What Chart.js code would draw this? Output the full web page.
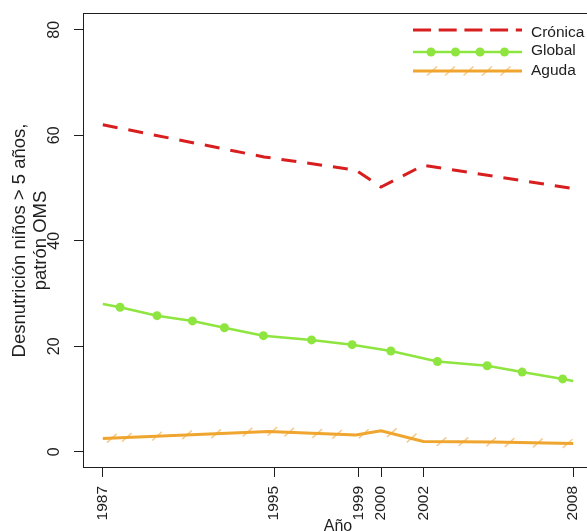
<!DOCTYPE html>
<html>
<head>
<meta charset="utf-8">
<title>Desnutrición en niños</title>
<script src="https://cdn.jsdelivr.net/npm/chart.js@4.4.1/dist/chart.umd.min.js"></script>
<style>
  html, body { margin: 0; padding: 0; background: #fff; overflow: hidden; }
  canvas { display: block; }
</style>
</head>
<body>
<canvas id="desnutricion" width="600" height="545" style="width:600px;height:545px"></canvas>
<script>
// Time axis runs on a survey index (1987 = 0); ticks sit at the survey years
const xTickPos = [0, 7.65, 11.43, 12.42, 14.31, 21];
const xTickLabels = ['1987', '1995', '1999', '2000', '2002', '2008'];
const yTicks = [0, 20, 40, 60, 80];

// Crónica (dashed red)
const cronicaT = [0, 7.2, 11.3, 12.42, 14.31, 21];
const cronicaY = [62.0, 55.9, 53.4, 50.2, 54.3, 49.9];

// Global (green, dots on the inner points)
const globalT = [0, 0.77, 2.42, 4.00, 5.43, 7.17, 9.32, 11.13, 12.86, 14.94, 17.16, 18.72, 20.53, 21];
const globalY = [28.0, 27.4, 25.8, 24.8, 23.5, 22.0, 21.2, 20.3, 19.1, 17.1, 16.3, 15.1, 13.8, 13.4];

// Aguda (orange line + slash marks)
const agudaT = [0, 7.4, 11.3, 12.42, 14.31, 17.4, 21];
const agudaY = [2.5, 3.85, 3.15, 3.95, 1.95, 1.85, 1.55];
const agudaMarkT = [0.40, 1.07, 2.42, 3.76, 5.06, 6.46, 7.57, 8.32, 9.57, 10.46, 11.65, 12.90, 13.79, 15.12, 16.10, 17.34, 18.16, 19.42, 20.75];
const agudaMarkY = [2.55, 2.7, 2.95, 3.2, 3.4, 3.7, 3.85, 3.7, 3.45, 3.3, 3.4, 3.6, 2.6, 1.9, 1.9, 1.85, 1.75, 1.65, 1.55];

const RED = '#d81e1e';
const GREEN = '#8ee53f';
const ORANGE = '#efa52e';
const SLASH = '#f5c98c';
const INK = '#1e1e1e';
const FONT = "'Liberation Sans', Arial, sans-serif";

const pts = (xs, ys) => xs.map((x, i) => ({ x: x, y: ys[i] }));

Chart.defaults.font.family = FONT;
Chart.defaults.color = INK;

// frame around the plotting region
const plotBox = {
  id: 'plotBox',
  afterDatasetsDraw(chart) {
    const { ctx, chartArea: a } = chart;
    ctx.save();
    ctx.strokeStyle = INK;
    ctx.lineWidth = 1;
    ctx.strokeRect(Math.round(a.left) - 0.5, Math.round(a.top) - 0.5,
      Math.round(a.right - a.left), Math.round(a.bottom - a.top) + 1);
    ctx.restore();
  }
};

// legend in the top-right corner, drawn by hand so markers sit on the line
const seriesKey = {
  id: 'seriesKey',
  afterDraw(chart) {
    const ctx = chart.ctx;
    const x0 = 413, x1 = 522, tx = 531;
    ctx.save();
    ctx.lineCap = 'butt';

    // Crónica
    ctx.strokeStyle = RED;
    ctx.lineWidth = 3;
    ctx.setLineDash([18, 7.7]);
    ctx.beginPath(); ctx.moveTo(x0, 30); ctx.lineTo(x1, 30); ctx.stroke();
    ctx.setLineDash([]);

    // Global
    ctx.strokeStyle = GREEN;
    ctx.lineWidth = 2.5;
    ctx.beginPath(); ctx.moveTo(x0, 52); ctx.lineTo(x1, 52); ctx.stroke();
    ctx.fillStyle = GREEN;
    [431, 455.5, 480, 504.5].forEach(cx => {
      ctx.beginPath(); ctx.arc(cx, 52, 4.5, 0, Math.PI * 2); ctx.fill();
    });

    // Aguda
    ctx.strokeStyle = SLASH;
    ctx.lineWidth = 1.5;
    [432, 450, 468.5, 487, 505.5].forEach(cx => {
      ctx.beginPath(); ctx.moveTo(cx - 5, 71 + 4.5); ctx.lineTo(cx + 5, 71 - 4.5); ctx.stroke();
    });
    ctx.strokeStyle = ORANGE;
    ctx.lineWidth = 3;
    ctx.beginPath(); ctx.moveTo(x0, 71); ctx.lineTo(x1, 71); ctx.stroke();

    ctx.fillStyle = INK;
    ctx.font = '15.5px ' + FONT;
    ctx.textAlign = 'left';
    ctx.textBaseline = 'middle';
    ctx.fillText('Crónica', tx, 33);
    ctx.fillText('Global', tx, 51);
    ctx.fillText('Aguda', tx, 71);
    ctx.restore();
  }
};

const ctx = document.getElementById('desnutricion').getContext('2d');
const desnutricionChart = new Chart(ctx, {
  type: 'line',
  data: {
    datasets: [
      {
        label: 'Crónica',
        data: pts(cronicaT, cronicaY),
        borderColor: RED,
        borderWidth: 3,
        borderDash: [15, 11],
        pointRadius: 0,
        tension: 0
      },
      {
        label: 'Global',
        data: pts(globalT, globalY),
        borderColor: GREEN,
        backgroundColor: GREEN,
        borderWidth: 2.5,
        pointRadius: c => (c.dataIndex === 0 || c.dataIndex === globalT.length - 1) ? 0 : 4.5,
        pointBorderWidth: 0,
        pointBackgroundColor: GREEN,
        tension: 0
      },
      {
        label: 'Aguda',
        data: pts(agudaT, agudaY),
        borderColor: ORANGE,
        borderWidth: 3,
        pointRadius: 0,
        tension: 0
      },
      {
        label: 'Aguda marcas',
        data: pts(agudaMarkT, agudaMarkY),
        showLine: false,
        pointStyle: 'line',
        rotation: -42,
        pointRadius: 6.5,
        pointBorderColor: SLASH,
        pointBorderWidth: 1.5
      }
    ]
  },
  options: {
    responsive: false,
    animation: false,
    events: [],
    layout: { padding: { top: 14, right: 6, bottom: 0, left: 0 } },
    scales: {
      x: {
        type: 'linear',
        min: -0.84,
        max: 21.84,
        afterBuildTicks: scale => { scale.ticks = xTickPos.map(v => ({ value: v })); },
        afterFit: scale => {
          scale.height = 78;
          scale.paddingLeft = 0;
          scale.paddingRight = 0;
        },
        grid: { display: true, drawOnChartArea: false, tickLength: 10, tickColor: INK },
        border: { display: false },
        ticks: {
          autoSkip: false,
          minRotation: 90,
          maxRotation: 90,
          padding: 9,
          color: INK,
          font: { size: 15.5 },
          callback: (v, i) => xTickLabels[i]
        },
        title: {
          display: true,
          text: 'Año',
          color: INK,
          font: { size: 16 },
          padding: { top: 0, bottom: 9 }
        }
      },
      y: {
        min: -2.9,
        max: 83,
        afterBuildTicks: scale => { scale.ticks = yTicks.map(v => ({ value: v })); },
        afterFit: scale => {
          scale.width = 84;
          scale.paddingTop = 0;
          scale.paddingBottom = 0;
        },
        grid: { display: true, drawOnChartArea: false, tickLength: 10, tickColor: INK },
        border: { display: false },
        ticks: {
          minRotation: 90,
          maxRotation: 90,
          crossAlign: 'center',
          padding: 11,
          color: INK,
          font: { size: 16 }
        },
        title: {
          display: true,
          text: ['Desnutrición niños > 5 años,', 'patrón OMS'],
          color: INK,
          font: { size: 18.5, lineHeight: 1.15 },
          padding: { top: 9.4, bottom: 0 }
        }
      }
    },
    plugins: {
      legend: { display: false },
      tooltip: { enabled: false }
    }
  },
  plugins: [plotBox, seriesKey]
});
</script>
</body>
</html>
